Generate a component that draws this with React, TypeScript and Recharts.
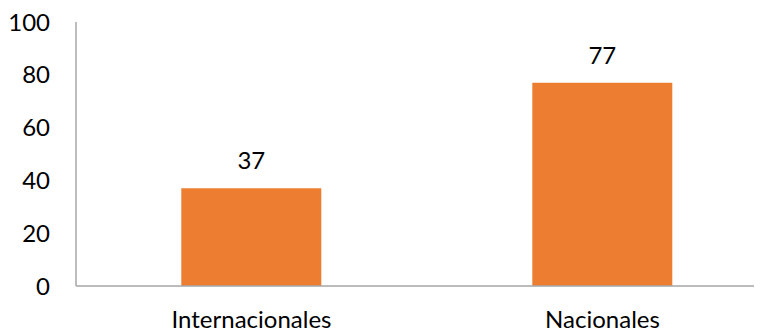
import React from "react";
import { BarChart, Bar, XAxis, YAxis, LabelList } from "recharts";

const categories = ["Internacionales", "Nacionales"];
const values = [37, 77];
const yTicks = [0, 20, 40, 60, 80, 100];

const data = categories.map((c, i) => ({ name: c, value: values[i] }));

const FONT = "Lato, 'Open Sans', sans-serif";

export default function App() {
  return (
    <div style={{ width: 754, height: 325, overflow: "hidden", fontFamily: FONT }}>
      <BarChart
        width={775}
        height={325}
        data={data}
        margin={{ top: 14, right: 5, bottom: 0, left: 0 }}
        barCategoryGap="30%"
      >
        <XAxis
          dataKey="name"
          axisLine={{ stroke: "#A6A6A6", strokeWidth: 1.5 }}
          tickLine={false}
          tickSize={6}
          tickMargin={19}
          height={47}
          tick={{ fill: "#000", fontSize: 24, fontFamily: FONT }}
        />
        <YAxis
          domain={[0, 100]}
          ticks={yTicks}
          interval={0}
          width={68}
          axisLine={{ stroke: "#A6A6A6", strokeWidth: 1.5 }}
          tickLine={false}
          tickSize={6}
          tickMargin={20}
          tick={{ fill: "#000", fontSize: 24, fontFamily: FONT }}
        />
        <Bar dataKey="value" fill="#ED7D31" isAnimationActive={false}>
          <LabelList
            dataKey="value"
            position="top"
            offset={19}
            fill="#000"
            fontSize={24}
            fontFamily={FONT}
          />
        </Bar>
      </BarChart>
    </div>
  );
}
